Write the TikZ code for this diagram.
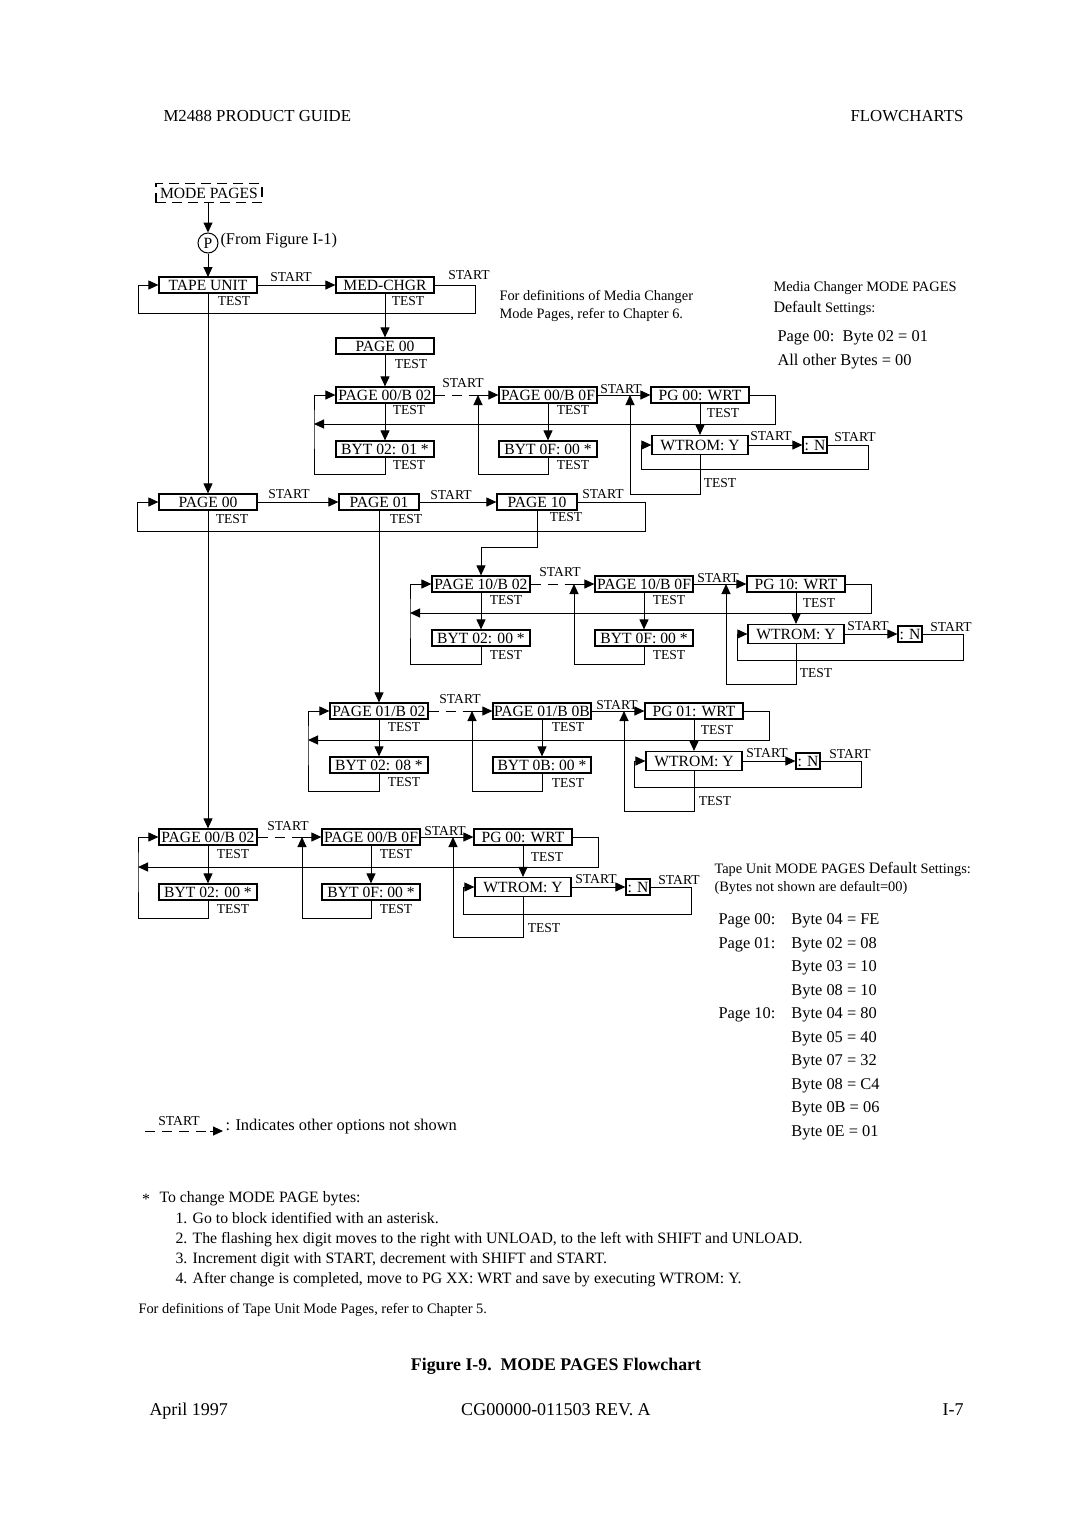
\documentclass[tikz,border=0pt]{standalone}
\usepackage{fontspec}
\setmainfont{Liberation Serif}
\usetikzlibrary{arrows.meta,positioning,calc}

\tikzset{
  box/.style={draw, line width=0.6pt, inner xsep=0.6pt, inner ysep=0pt,
    minimum width=49pt, minimum height=8pt, font=\fontsize{7.8}{8}\selectfont},
  sbox/.style={box, minimum width=12pt},
  wbox/.style={box, minimum width=48pt, minimum height=9.5pt},
  lbl/.style={inner sep=0pt, font=\fontsize{6.8}{7}\selectfont},
  txt/.style={inner sep=0pt, font=\fontsize{8.2}{9}\selectfont},
  steptxt/.style={inner sep=0pt, font=\fontsize{7.9}{9}\selectfont},
  foot/.style={inner sep=0pt, font=\fontsize{9}{10}\selectfont},
  note/.style={inner sep=0pt, font=\fontsize{7.2}{8}\selectfont},
  arr/.style={-{Triangle[length=5pt,width=4.5pt]}},
  startdash/.style={dash pattern=on 5pt off 3.5pt}
}

\begin{document}
\begin{tikzpicture}[x=0.5pt, y=-0.5pt, line width=0.5pt]
    \useasboundingbox (0,0) rectangle (1080,1528);

    % Page header
    \node[txt, font=\fontsize{8.4}{9}\selectfont, anchor=base west] (guide) at (163,121) {M2488 PRODUCT GUIDE};
    \node[txt, font=\fontsize{8.4}{9}\selectfont, anchor=base east] (chap) at (964,121) {FLOWCHARTS};

    % Entry
    \node[box, dashed, dash pattern=on 5pt off 3pt, minimum width=53pt, minimum height=9.5pt] (modepages) at (209,193) {MODE PAGES};
    \node[draw, circle, minimum size=10pt, inner sep=0pt, font=\fontsize{7.8}{8}\selectfont] (p) at (208,243) {P};
    \node[txt, anchor=west] (from) at (220,241) {(From Figure I-1)};
    \draw[arr] (modepages.south -| p) -- (p.north);
    \draw[arr] (p.south) -- (208,277);

    % Tape unit / media changer
    \node[box] (tu) at (208,285) {TAPE UNIT};
    \node[box] (mc) at (385,285) {MED-CHGR};
    \coordinate (topret) at (138,313);
    \draw[arr] (tu.east) -- (mc.west);
    \draw[arr] (mc.east) -- ++(41,0) |- (topret) |- (tu.west);
    \node[lbl] (tus) at (291,277) {START};
    \node[lbl] (mcs) at (469,275) {START};
    \node[lbl] (tut) at (234,301) {TEST};
    \node[lbl] (mct) at (408,301) {TEST};

    % Media changer pages
    \node[box] (mcp00) at (385,346) {PAGE 00};
    \node[lbl] (mcp00t) at (411,364) {TEST};
    \node[box] (mcb02) at (385,395) {PAGE 00/B 02};
    \node[box] (mcb0f) at (548,395) {PAGE 00/B 0F};
    \node[box] (mcwrt) at (700,395) {PG 00: WRT};
    \node[box] (mcbyt02) at (385,449) {BYT 02: 01 *};
    \node[box] (mcbyt0f) at (548,449) {BYT 0F: 00 *};
    \node[wbox] (mcwtrom) at (700,445) {WTROM: Y};
    \node[sbox] (mcn) at (815,445) {: N};
    \coordinate (mcj1) at (478,395);
    \coordinate (mcj2) at (630,395);
    \coordinate (mcrail) at (314,424);
    \coordinate (mcret) at (641,469);
    \draw[arr] (mc.south) -- (mcp00.north);
    \draw[arr] (mcp00.south) -- (mcb02.north);
    \draw[startdash] (mcb02.east) -- (mcj1);
    \draw[arr] (mcj1) -- (mcb0f.west);
    \draw[arr] (mcb0f.east) -- (mcwrt.west);
    \draw[arr] (mcb02.south) -- (mcbyt02.north);
    \draw[arr] (mcb0f.south) -- (mcbyt0f.north);
    \draw[arr] (mcwrt.south) -- (mcwtrom.north);
    \draw[arr] (mcwrt.east) -- ++(26,0) |- (mcrail);
    \draw[arr] (mcbyt02.south) -- ++(0,17) -| (mcrail) |- (mcb02.west);
    \draw[arr] (mcbyt0f.south) -- ++(0,17) -| (mcj1);
    \draw[arr] (mcwtrom.east) -- (mcn.west);
    \draw[arr] (mcn.east) -- ++(41,0) |- (mcret) |- (mcwtrom.west);
    \draw[arr] (mcwtrom.south) -- ++(0,39) -| (mcj2);
    \node[lbl] (mcs1) at (463,383) {START};
    \node[lbl] (mcs2) at (621,389) {START};
    \node[lbl] (mct1) at (409,410) {TEST};
    \node[lbl] (mct2) at (573,410) {TEST};
    \node[lbl] (mct3) at (723,413) {TEST};
    \node[lbl] (mct4) at (409,465) {TEST};
    \node[lbl] (mct5) at (573,465) {TEST};
    \node[lbl] (mcs3) at (771,436) {START};
    \node[lbl] (mcs4) at (855,437) {START};
    \node[lbl] (mct6) at (720,483) {TEST};

    % Tape unit pages
    \node[box] (tp00) at (208,502) {PAGE 00};
    \node[box, minimum width=40pt] (tp01) at (379,502) {PAGE 01};
    \node[box, minimum width=40pt] (tp10) at (537,502) {PAGE 10};
    \coordinate (tpret) at (137,531);
    \draw[arr] (tu.south) -- (tp00.north);
    \draw[arr] (tp00.east) -- (tp01.west);
    \draw[arr] (tp01.east) -- (tp10.west);
    \draw[arr] (tp10.east) -- ++(68,0) |- (tpret) |- (tp00.west);
    \node[lbl] (tps1) at (289,494) {START};
    \node[lbl] (tps2) at (451,495) {START};
    \node[lbl] (tps3) at (603,494) {START};
    \node[lbl] (tpt1) at (232,519) {TEST};
    \node[lbl] (tpt2) at (406,519) {TEST};
    \node[lbl] (tpt3) at (566,517) {TEST};

    % Page 10
    \node[box] (tenb02) at (481,584) {PAGE 10/B 02};
    \node[box] (tenb0f) at (644,584) {PAGE 10/B 0F};
    \node[box] (tenwrt) at (796,584) {PG 10: WRT};
    \node[box] (tenbyt02) at (481,638) {BYT 02: 00 *};
    \node[box] (tenbyt0f) at (644,638) {BYT 0F: 00 *};
    \node[wbox] (tenwtrom) at (796,634) {WTROM: Y};
    \node[sbox] (tenn) at (910,634) {: N};
    \coordinate (tenj1) at (574,584);
    \coordinate (tenj2) at (726,584);
    \coordinate (tenrail) at (410,613);
    \coordinate (tenret) at (737,660);
    \draw[arr] (tp10.south) -- ++(0,37) -| (tenb02.north);
    \draw[startdash] (tenb02.east) -- (tenj1);
    \draw[arr] (tenj1) -- (tenb0f.west);
    \draw[arr] (tenb0f.east) -- (tenwrt.west);
    \draw[arr] (tenb02.south) -- (tenbyt02.north);
    \draw[arr] (tenb0f.south) -- (tenbyt0f.north);
    \draw[arr] (tenwrt.south) -- (tenwtrom.north);
    \draw[arr] (tenwrt.east) -- ++(26,0) |- (tenrail);
    \draw[arr] (tenbyt02.south) -- ++(0,18) -| (tenrail) |- (tenb02.west);
    \draw[arr] (tenbyt0f.south) -- ++(0,18) -| (tenj1);
    \draw[arr] (tenwtrom.east) -- (tenn.west);
    \draw[arr] (tenn.east) -- ++(41,0) |- (tenret) |- (tenwtrom.west);
    \draw[arr] (tenwtrom.south) -- ++(0,40) -| (tenj2);
    \node[lbl] (tens1) at (560,572) {START};
    \node[lbl] (tens2) at (718,578) {START};
    \node[lbl] (tent1) at (506,600) {TEST};
    \node[lbl] (tent2) at (669,600) {TEST};
    \node[lbl] (tent3) at (819,603) {TEST};
    \node[lbl] (tent4) at (506,655) {TEST};
    \node[lbl] (tent5) at (669,655) {TEST};
    \node[lbl] (tens3) at (868,626) {START};
    \node[lbl] (tens4) at (951,627) {START};
    \node[lbl] (tent6) at (816,673) {TEST};

    % Page 01
    \node[box] (oneb02) at (379,711) {PAGE 01/B 02};
    \node[box] (oneb0b) at (542,711) {PAGE 01/B 0B};
    \node[box] (onewrt) at (694,711) {PG 01: WRT};
    \node[box] (onebyt02) at (379,765) {BYT 02: 08 *};
    \node[box] (onebyt0b) at (542,765) {BYT 0B: 00 *};
    \node[wbox] (onewtrom) at (694,761) {WTROM: Y};
    \node[sbox] (onen) at (808,761) {: N};
    \coordinate (onej1) at (472,711);
    \coordinate (onej2) at (624,711);
    \coordinate (onerail) at (308,740);
    \coordinate (oneret) at (634,787);
    \draw[arr] (tp01.south) -- (oneb02.north);
    \draw[startdash] (oneb02.east) -- (onej1);
    \draw[arr] (onej1) -- (oneb0b.west);
    \draw[arr] (oneb0b.east) -- (onewrt.west);
    \draw[arr] (oneb02.south) -- (onebyt02.north);
    \draw[arr] (oneb0b.south) -- (onebyt0b.north);
    \draw[arr] (onewrt.south) -- (onewtrom.north);
    \draw[arr] (onewrt.east) -- ++(26,0) |- (onerail);
    \draw[arr] (onebyt02.south) -- ++(0,18) -| (onerail) |- (oneb02.west);
    \draw[arr] (onebyt0b.south) -- ++(0,18) -| (onej1);
    \draw[arr] (onewtrom.east) -- (onen.west);
    \draw[arr] (onen.east) -- ++(41,0) |- (oneret) |- (onewtrom.west);
    \draw[arr] (onewtrom.south) -- ++(0,40) -| (onej2);
    \node[lbl] (ones1) at (460,699) {START};
    \node[lbl] (ones2) at (617,705) {START};
    \node[lbl] (onet1) at (404,727) {TEST};
    \node[lbl] (onet2) at (568,727) {TEST};
    \node[lbl] (onet3) at (717,730) {TEST};
    \node[lbl] (onet4) at (404,782) {TEST};
    \node[lbl] (onet5) at (568,783) {TEST};
    \node[lbl] (ones3) at (767,753) {START};
    \node[lbl] (ones4) at (850,754) {START};
    \node[lbl] (onet6) at (715,801) {TEST};

    % Page 00
    \node[box] (zerob02) at (208,837) {PAGE 00/B 02};
    \node[box] (zerob0f) at (371,837) {PAGE 00/B 0F};
    \node[box] (zerowrt) at (523,837) {PG 00: WRT};
    \node[box] (zerobyt02) at (208,892) {BYT 02: 00 *};
    \node[box] (zerobyt0f) at (371,892) {BYT 0F: 00 *};
    \node[wbox] (zerowtrom) at (523,887) {WTROM: Y};
    \node[sbox] (zeron) at (638,887) {: N};
    \coordinate (zeroj1) at (302,837);
    \coordinate (zeroj2) at (453,837);
    \coordinate (zerorail) at (138,867);
    \coordinate (zeroret) at (463,914);
    \draw[arr] (tp00.south) -- (zerob02.north);
    \draw[startdash] (zerob02.east) -- (zeroj1);
    \draw[arr] (zeroj1) -- (zerob0f.west);
    \draw[arr] (zerob0f.east) -- (zerowrt.west);
    \draw[arr] (zerob02.south) -- (zerobyt02.north);
    \draw[arr] (zerob0f.south) -- (zerobyt0f.north);
    \draw[arr] (zerowrt.south) -- (zerowtrom.north);
    \draw[arr] (zerowrt.east) -- ++(26,0) |- (zerorail);
    \draw[arr] (zerobyt02.south) -- ++(0,18) -| (zerorail) |- (zerob02.west);
    \draw[arr] (zerobyt0f.south) -- ++(0,18) -| (zeroj1);
    \draw[arr] (zerowtrom.east) -- (zeron.west);
    \draw[arr] (zeron.east) -- ++(41,0) |- (zeroret) |- (zerowtrom.west);
    \draw[arr] (zerowtrom.south) -- ++(0,40) -| (zeroj2);
    \node[lbl] (zeros1) at (288,826) {START};
    \node[lbl] (zeros2) at (445,831) {START};
    \node[lbl] (zerot1) at (233,854) {TEST};
    \node[lbl] (zerot2) at (396,854) {TEST};
    \node[lbl] (zerot3) at (547,857) {TEST};
    \node[lbl] (zerot4) at (233,909) {TEST};
    \node[lbl] (zerot5) at (396,909) {TEST};
    \node[lbl] (zeros3) at (596,879) {START};
    \node[lbl] (zeros4) at (679,880) {START};
    \node[lbl] (zerot6) at (544,928) {TEST};

    % Notes and default settings
    \node[note, anchor=west] (mcdef1) at (499,297) {For definitions of Media Changer};
    \node[note, anchor=west] (mcdef2) at (499,315) {Mode Pages, refer to Chapter 6.};
    \node[note, anchor=west] (mcdflt1) at (773,288) {Media Changer MODE PAGES};
    \node[note, anchor=west] (mcdflt2) at (773,308) {{\fontsize{8}{9}\selectfont Default} Settings:};
    \node[txt, anchor=west] (mcval1) at (777,338) {Page 00:\enspace Byte 02 = 01};
    \node[txt, anchor=west] (mcval2) at (777,362) {All other Bytes = 00};
    \node[note, anchor=west] (tudflt1) at (714,869) {Tape Unit MODE PAGES {\fontsize{8}{9}\selectfont Default} Settings:};
    \node[note, anchor=west] (tudflt2) at (714,888) {(Bytes not shown are default=00)};
    \node[inner sep=0pt, anchor=north west, font=\fontsize{8.2}{11.75}\selectfont] (tuvals) at (718,908) {%
      \begin{tabular}{@{}r@{\hspace{8pt}}l@{}}
        Page 00: & Byte 04 = FE\\
        Page 01: & Byte 02 = 08\\
                 & Byte 03 = 10\\
                 & Byte 08 = 10\\
        Page 10: & Byte 04 = 80\\
                 & Byte 05 = 40\\
                 & Byte 07 = 32\\
                 & Byte 08 = C4\\
                 & Byte 0B = 06\\
                 & Byte 0E = 01
      \end{tabular}};

    % Legend
    \coordinate (lega) at (145,1131);
    \coordinate (legm) at (210,1131);
    \coordinate (legb) at (223,1131);
    \draw[startdash] (lega) -- (legm);
    \draw[arr] (legm) -- (legb);
    \node[lbl] (legs) at (179,1121) {START};
    \node[txt, anchor=west] (legtxt) at (225,1127) {: Indicates other options not shown};

    % Byte change procedure
    \node[steptxt, anchor=base] (ast) at (146,1204) {*};
    \node[steptxt, anchor=base west] (chg0) at (159,1202) {To change MODE PAGE bytes:};
    \node[steptxt, anchor=base west] (chg1) at (175,1223) {1. Go to block identified with an asterisk.};
    \node[steptxt, anchor=base west] (chg2) at (175,1243) {2. The flashing hex digit moves to the right with UNLOAD, to the left with SHIFT and UNLOAD.};
    \node[steptxt, anchor=base west] (chg3) at (175,1263) {3. Increment digit with START, decrement with SHIFT and START.};
    \node[steptxt, anchor=base west] (chg4) at (175,1283) {4. After change is completed, move to PG XX: WRT and save by executing WTROM: Y.};
    \node[note, anchor=west] (tudef) at (138,1310) {For definitions of Tape Unit Mode Pages, refer to Chapter 5.};

    % Caption and footer
    \node[inner sep=0pt, font=\bfseries\fontsize{8.9}{10}\selectfont] (caption) at (556,1366) {Figure I-9.\enspace MODE PAGES Flowchart};
    \node[foot, anchor=base west] (date) at (149,1415) {April 1997};
    \node[foot, anchor=base] (docno) at (556,1415) {CG00000-011503 REV. A};
    \node[foot, anchor=base east] (pageno) at (964,1415) {I-7};
\end{tikzpicture}
\end{document}
